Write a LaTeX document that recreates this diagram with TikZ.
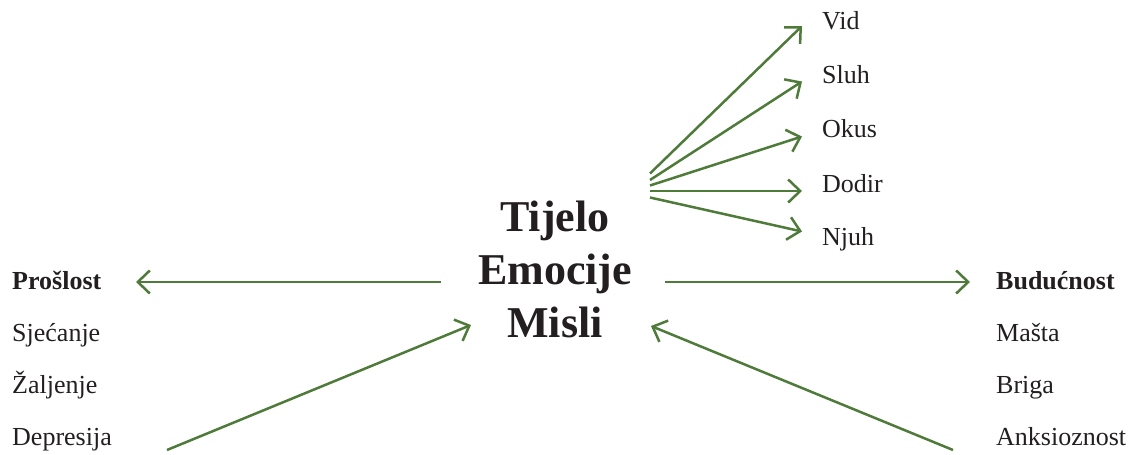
\documentclass[tikz,border=0pt]{standalone}
\usepackage{fontspec}
\setmainfont{Liberation Serif}
\usetikzlibrary{arrows.meta}
\definecolor{leaf}{RGB}{78,122,58}
\definecolor{ink}{RGB}{35,31,32}
\tikzset{
  label/.style={anchor=base west, inner sep=0pt, text=ink, font=\fontsize{26}{30}\selectfont},
  head/.style={label, font=\fontsize{26}{30}\selectfont\bfseries},
  core/.style={anchor=base, inner sep=0pt, text=ink, font=\fontsize{44}{53}\selectfont\bfseries},
  link/.style={draw=leaf, line width=2.5pt, -{Straight Barb[length=12pt,width=23pt,line width=2.5pt]}}
}
\begin{document}
\begin{tikzpicture}[x=1pt,y=-1pt]
\useasboundingbox (0,0) rectangle (1146,455);

% centre
\node[core] (body) at (555,231) {Tijelo};
\node[core] (emo) at (555,284) {Emocije};
\node[core] (mind) at (555,337) {Misli};

% senses
\node[label] (vid) at (822,29.5) {Vid};
\node[label] (sluh) at (822,83.5) {Sluh};
\node[label] (okus) at (822,137) {Okus};
\node[label] (dodir) at (822,192) {Dodir};
\node[label] (njuh) at (822,245) {Njuh};

% past
\node[head] (past) at (12,289.5) {Prošlost};
\node[label] (mem) at (12,341) {Sjećanje};
\node[label] (regret) at (12,393) {Žaljenje};
\node[label] (dep) at (12,445) {Depresija};

% future
\node[head] (future) at (996,289.5) {Budućnost};
\node[label] (imag) at (996,341) {Mašta};
\node[label] (worry) at (996,393) {Briga};
\node[label] (anx) at (996,445) {Anksioznost};

% connector ends
\coordinate (f1) at (650,173.5);
\coordinate (f2) at (650,180);
\coordinate (f3) at (650,185.5);
\coordinate (f4) at (650,191);
\coordinate (f5) at (650,197.5);
\coordinate (t1) at (802,26);
\coordinate (t2) at (802,81.5);
\coordinate (t3) at (802,136.5);
\coordinate (t4) at (802,191);
\coordinate (t5) at (802,231.5);

\coordinate (pl) at (440.5,282);
\coordinate (pt) at (136,282);
\coordinate (fl) at (665,282);
\coordinate (ft) at (970,282);
\coordinate (dl) at (167,450);
\coordinate (dt) at (471,325);
\coordinate (al) at (953,450);
\coordinate (at) at (651,326);

\draw[link] (f1) -- (t1);
\draw[link] (f2) -- (t2);
\draw[link] (f3) -- (t3);
\draw[link] (f4) -- (t4);
\draw[link] (f5) -- (t5);
\draw[link] (pl) -- (pt);
\draw[link] (fl) -- (ft);
\draw[link] (dl) -- (dt);
\draw[link] (al) -- (at);
\end{tikzpicture}
\end{document}
